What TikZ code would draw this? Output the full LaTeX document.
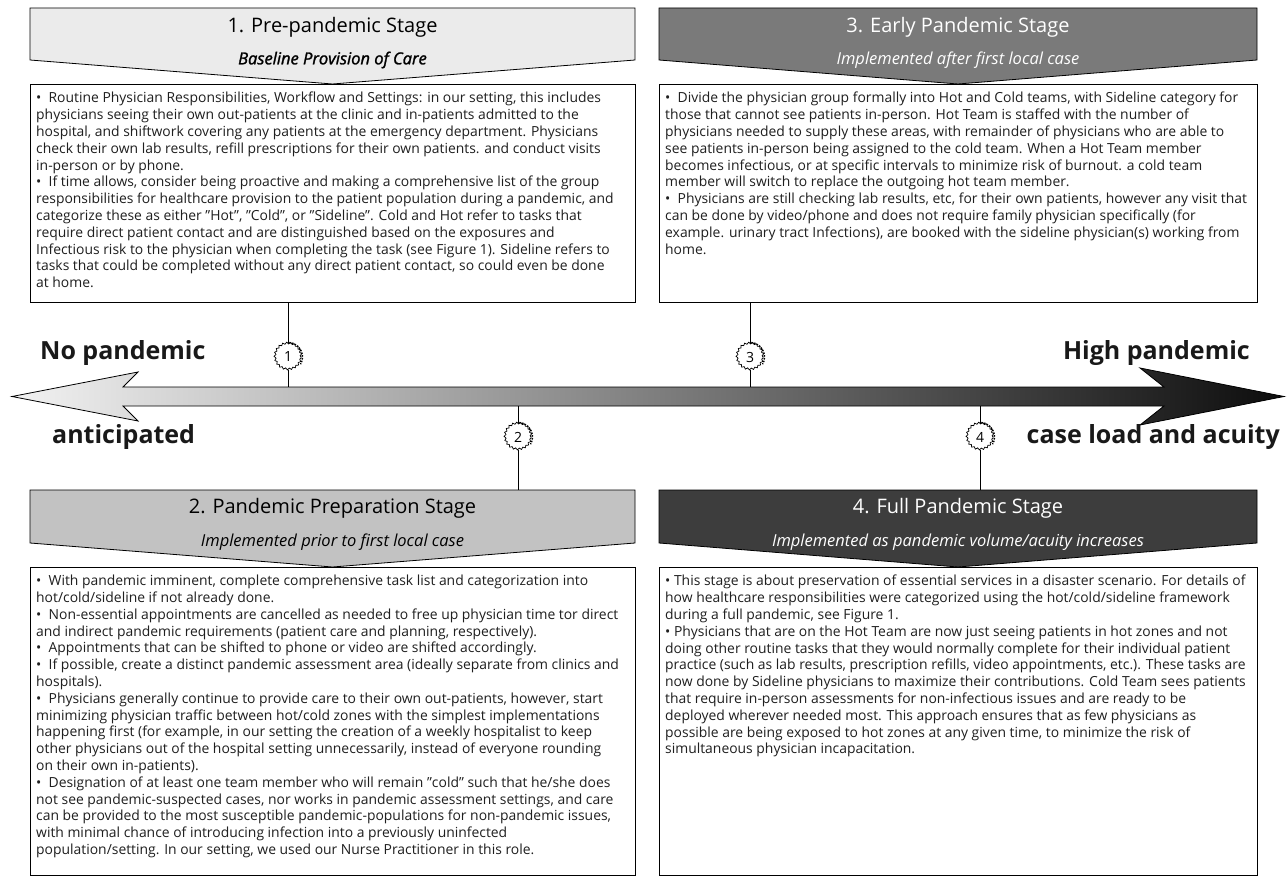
\documentclass[tikz,border=0pt]{standalone}
\usepackage{fontspec}
\setmainfont{Open Sans}
\newfontfamily\semib{Open Sans}[FakeBold=1.5]
\usetikzlibrary{decorations.pathmorphing}
\begin{document}
\begin{tikzpicture}[x=1pt,y=-1pt,
 hdr/.style={draw=black, line width=0.8pt},
 tbox/.style={draw=black, line width=0.8pt, fill=white, inner sep=0pt, anchor=north west},
 body/.style={anchor=north west, align=left, inner sep=0pt, font=\fontsize{13.9}{16.8}\selectfont, text=black!88},
 ttl/.style={font=\fontsize{20}{22}\selectfont, inner sep=0pt},
 sub/.style={font=\fontsize{16.5}{18}\selectfont\itshape, inner sep=0pt},
 big/.style={font=\fontsize{25}{27}\selectfont\bfseries, inner sep=0pt, text=black!90},
 badge/.style={circle, draw, fill=white, minimum size=26pt, inner sep=0pt, line width=0.7pt, decorate, decoration={snake, segment length=3.9pt, amplitude=0.9pt}, font=\fontsize{14}{14}\selectfont},
 teeth/.style={line width=1.4pt, dash pattern=on 1.6pt off 1.2pt},
 link/.style={line width=0.9pt}
]
\useasboundingbox (0,0) rectangle (1287,877);
\fill[white] (0,0) rectangle (1287,877);

% ---------- main arrow ----------
\shadedraw[left color=black!5, right color=black!95, draw=black, line width=0.8pt]
 (12,396.5) -- (138,372) -- (123,387) -- (1164,387) -- (1140,368) -- (1284,396.5)
 -- (1140,425) -- (1164,406) -- (123,406) -- (138,421) -- cycle;
\coordinate (atop) at (0,387);
\coordinate (abot) at (0,406);
\coordinate (htop) at (0,490);

\node[big, anchor=west] (lnp) at (40,353) {No pandemic};
\node[big, anchor=west] (lan) at (52,437) {anticipated};
\node[big, anchor=east] (lhp) at (1250,353) {High pandemic};
\node[big, anchor=east] (lcl) at (1280,437) {case load and acuity};

% ---------- stage 1 ----------
\filldraw[hdr, fill=black!8] (30,8) -- (635,8) -- (635,60) -- (332.5,84) -- (30,60) -- cycle;
\node[ttl] (h1t) at (332.5,27) {1. Pre-pandemic Stage};
\node[sub, font=\fontsize{16.5}{18}\semib\itshape] (h1s) at (332.5,60) {Baseline Provision of Care};
\node[tbox, minimum width=605pt, minimum height=218pt] (t1) at (30,84) {};
\node[body] (x1) at (36,92) {•\ \ Routine Physician Responsibilities, Workflow and Settings: in our setting, this includes\\
physicians seeing their own out-patients at the clinic and in-patients admitted to the\\
hospital, and shiftwork covering any patients at the emergency department. Physicians\\
check their own lab results, refill prescriptions for their own patients. and conduct visits\\
in-person or by phone.\\
•\ \ If time allows, consider being proactive and making a comprehensive list of the group\\
responsibilities for healthcare provision to the patient population during a pandemic, and\\
categorize these as either "Hot", "Cold", or "Sideline". Cold and Hot refer to tasks that\\
require direct patient contact and are distinguished based on the exposures and\\
Infectious risk to the physician when completing the task (see Figure 1). Sideline refers to\\
tasks that could be completed without any direct patient contact, so could even be done\\
at home.};

% ---------- stage 3 ----------
\filldraw[hdr, fill=black!52] (659,8) -- (1257,8) -- (1257,60) -- (958,84) -- (659,60) -- cycle;
\node[ttl, text=white] (h3t) at (958,27) {3. Early Pandemic Stage};
\node[sub, text=white] (h3s) at (958,60) {Implemented after first local case};
\node[tbox, minimum width=598pt, minimum height=218pt] (t3) at (659,84) {};
\node[body] (x3) at (665,92) {•\ \ Divide the physician group formally into Hot and Cold teams, with Sideline category for\\
those that cannot see patients in-person. Hot Team is staffed with the number of\\
physicians needed to supply these areas, with remainder of physicians who are able to\\
see patients in-person being assigned to the cold team. When a Hot Team member\\
becomes infectious, or at specific intervals to minimize risk of burnout. a cold team\\
member will switch to replace the outgoing hot team member.\\
•\ \ Physicians are still checking lab results, etc, for their own patients, however any visit that\\
can be done by video/phone and does not require family physician specifically (for\\
example. urinary tract Infections), are booked with the sideline physician(s) working from\\
home.};

% ---------- stage 2 ----------
\filldraw[hdr, fill=black!24] (30,490) -- (635,490) -- (635,543) -- (332.5,567) -- (30,543) -- cycle;
\node[ttl] (h2t) at (332.5,508) {2. Pandemic Preparation Stage};
\node[sub] (h2s) at (332.5,542) {Implemented prior to first local case};
\node[tbox, minimum width=605pt, minimum height=308pt] (t2) at (30,567) {};
\node[body] (x2) at (36,575) {•\ \ With pandemic imminent, complete comprehensive task list and categorization into\\
hot/cold/sideline if not already done.\\
•\ \ Non-essential appointments are cancelled as needed to free up physician time tor direct\\
and indirect pandemic requirements (patient care and planning, respectively).\\
•\ \ Appointments that can be shifted to phone or video are shifted accordingly.\\
•\ \ If possible, create a distinct pandemic assessment area (ideally separate from clinics and\\
hospitals).\\
•\ \ Physicians generally continue to provide care to their own out-patients, however, start\\
minimizing physician traffic between hot/cold zones with the simplest implementations\\
happening first (for example, in our setting the creation of a weekly hospitalist to keep\\
other physicians out of the hospital setting unnecessarily, instead of everyone rounding\\
on their own in-patients).\\
•\ \ Designation of at least one team member who will remain "cold" such that he/she does\\
not see pandemic-suspected cases, nor works in pandemic assessment settings, and care\\
can be provided to the most susceptible pandemic-populations for non-pandemic issues,\\
with minimal chance of introducing infection into a previously uninfected\\
population/setting. In our setting, we used our Nurse Practitioner in this role.};

% ---------- stage 4 ----------
\filldraw[hdr, fill=black!76] (659,490) -- (1257,490) -- (1257,543) -- (958,567) -- (659,543) -- cycle;
\node[ttl, text=white] (h4t) at (958,508) {4. Full Pandemic Stage};
\node[sub, text=white] (h4s) at (958,542) {Implemented as pandemic volume/acuity increases};
\node[tbox, minimum width=598pt, minimum height=308pt] (t4) at (659,567) {};
\node[body] (x4) at (665,575) {•\ This stage is about preservation of essential services in a disaster scenario. For details of\\
how healthcare responsibilities were categorized using the hot/cold/sideline framework\\
during a full pandemic, see Figure 1.\\
•\ Physicians that are on the Hot Team are now just seeing patients in hot zones and not\\
doing other routine tasks that they would normally complete for their individual patient\\
practice (such as lab results, prescription refills, video appointments, etc.). These tasks are\\
now done by Sideline physicians to maximize their contributions. Cold Team sees patients\\
that require in-person assessments for non-infectious issues and are ready to be\\
deployed wherever needed most. This approach ensures that as few physicians as\\
possible are being exposed to hot zones at any given time, to minimize the risk of\\
simultaneous physician incapacitation.};

% ---------- badges and links ----------
\node[badge] (b1) at (288,357) {1};
\node[badge] (b3) at (750,357) {3};
\node[badge] (b2) at (518,437) {2};
\node[badge] (b4) at (980,437) {4};
\foreach \b in {b1,b2,b3,b4}{
  \draw[teeth] ([shift={(-85:14.5)}]\b.center) arc[start angle=-85, end angle=30, radius=14.5];
}
\draw[link] (t1.south -| b1.north) -- (b1.north);
\draw[link] (b1.south) -- (b1.south |- atop);
\draw[link] (t3.south -| b3.north) -- (b3.north);
\draw[link] (b3.south) -- (b3.south |- atop);
\draw[link] (abot -| b2.north) -- (b2.north);
\draw[link] (b2.south) -- (b2.south |- htop);
\draw[link] (abot -| b4.north) -- (b4.north);
\draw[link] (b4.south) -- (b4.south |- htop);
\end{tikzpicture}
\end{document}
